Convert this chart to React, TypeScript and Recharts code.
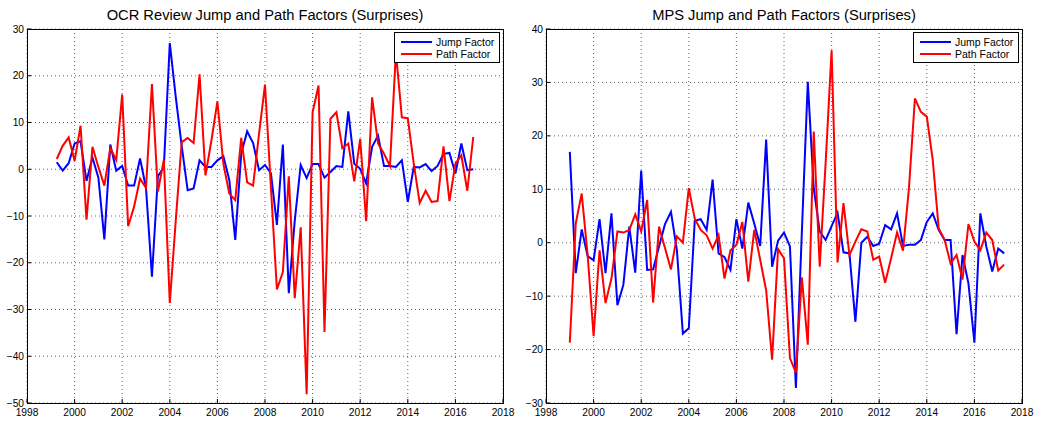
import { LineChart, Line, XAxis, YAxis, CartesianGrid, Legend } from "recharts";

// OCR Review dates (quarterly), 1999Q2 .. 2016Q4
const ocrDates = [
  1999.25, 1999.5, 1999.75,
  2000, 2000.25, 2000.5, 2000.75, 2001, 2001.25, 2001.5, 2001.75,
  2002, 2002.25, 2002.5, 2002.75, 2003, 2003.25, 2003.5, 2003.75,
  2004, 2004.25, 2004.5, 2004.75, 2005, 2005.25, 2005.5, 2005.75,
  2006, 2006.25, 2006.5, 2006.75, 2007, 2007.25, 2007.5, 2007.75,
  2008, 2008.25, 2008.5, 2008.75, 2009, 2009.25, 2009.5, 2009.75,
  2010, 2010.25, 2010.5, 2010.75, 2011, 2011.25, 2011.5, 2011.75,
  2012, 2012.25, 2012.5, 2012.75, 2013, 2013.25, 2013.5, 2013.75,
  2014, 2014.25, 2014.5, 2014.75, 2015, 2015.25, 2015.5, 2015.75,
  2016, 2016.25, 2016.5, 2016.75,
];

const ocrJump = [
  1.5, -0.3, 1.3,
  5.5, 6.0, -2.5, 2.5, -1.8, -15.0, 5.3, -0.3,
  0.7, -3.5, -3.5, 2.3, -4.0, -23.0, -1.5, 0.5,
  27.0, 15.5, 5.0, -4.5, -4.1, 1.9, 0.5, 0.5,
  1.9, 2.8, -2.3, -15.1, 3.3, 8.1, 5.6, -0.2,
  0.9, -0.9, -11.9, 5.3, -26.5, -11.0, 0.9, -1.9,
  1.1, 1.1, -1.8, -0.6, 0.7, 0.5, 12.4, 1.2,
  0.1, -3.0, 4.8, 7.2, 0.7, 0.7, 0.5, 1.9,
  -7.0, 0.5, 0.4, 1.1, -0.4, 0.7, 3.3, 3.5,
  -0.9, 5.5, -0.2, 0.0,
];

const ocrPath = [
  2.2, 5.0, 6.8,
  1.8, 9.3, -10.8, 4.8, 0.5, -3.5, 4.5, 2.0,
  16.0, -12.2, -8.0, -2.0, -4.0, 18.2, -4.8, 2.0,
  -28.6, -11.0, 5.8, 6.7, 5.6, 20.3, -1.3, 6.2,
  14.5, 1.2, -5.2, -6.6, 6.7, -2.8, -3.5, 7.6,
  18.1, -4.0, -25.7, -22.0, -1.5, -27.6, -12.4, -48.1,
  12.2, 17.9, -34.8, 10.8, 12.2, 4.5, 5.5, -2.6,
  6.5, -11.1, 15.4, 5.5, 3.3, 0.7, 25.0, 11.1,
  10.9, 1.2, -7.2, -4.6, -7.0, -6.8, 4.9, -6.8,
  1.2, 3.0, -4.6, 6.9,
];

// MPS dates (quarterly), 1999Q1 .. 2017Q2
const mpsDates = [
  1999, 1999.25, 1999.5, 1999.75,
  2000, 2000.25, 2000.5, 2000.75, 2001, 2001.25, 2001.5, 2001.75,
  2002, 2002.25, 2002.5, 2002.75, 2003, 2003.25, 2003.5, 2003.75,
  2004, 2004.25, 2004.5, 2004.75, 2005, 2005.25, 2005.5, 2005.75,
  2006, 2006.25, 2006.5, 2006.75, 2007, 2007.25, 2007.5, 2007.75,
  2008, 2008.25, 2008.5, 2008.75, 2009, 2009.25, 2009.5, 2009.75,
  2010, 2010.25, 2010.5, 2010.75, 2011, 2011.25, 2011.5, 2011.75,
  2012, 2012.25, 2012.5, 2012.75, 2013, 2013.25, 2013.5, 2013.75,
  2014, 2014.25, 2014.5, 2014.75, 2015, 2015.25, 2015.5, 2015.75,
  2016, 2016.25, 2016.5, 2016.75, 2017, 2017.25,
];

const mpsJump = [
  17.0, -5.7, 2.5, -2.5,
  -3.3, 4.4, -5.7, 5.5, -11.7, -7.9, 3.0, -5.6,
  13.5, -5.1, -5.0, -0.7, 3.5, 5.8, -1.4, -17.0,
  -16.0, 4.1, 4.4, 2.4, 11.8, -2.0, -2.7, -5.1,
  4.4, -1.1, 7.5, 3.6, -0.6, 19.3, -4.5, 0.4,
  1.9, -0.7, -27.2, 2.0, 30.1, 10.2, 2.1, 0.5,
  3.1, 5.6, -1.8, -2.0, -14.8, 0.0, 1.1, -0.6,
  -0.2, 3.3, 2.5, 5.5, -0.6, -0.4, -0.4, 0.5,
  3.9, 5.5, 2.4, 0.5, 0.5, -17.1, -2.3, -7.6,
  -18.7, 5.5, -0.7, -5.4, -1.1, -2.0,
];

const mpsPath = [
  -18.7, 3.6, 9.2, -2.3,
  -17.5, -1.4, -11.3, -6.7, 2.1, 1.9, 2.4, 5.3,
  2.1, 8.0, -11.2, 3.0, -1.0, -5.0, 1.2, 0.0,
  10.2, 4.5, 2.4, 1.4, -1.1, 1.4, -6.7, -1.4,
  -0.4, 3.9, -7.3, 2.4, -3.2, -8.9, -21.9, -1.2,
  -2.9, -21.6, -24.3, -6.5, -19.1, 20.8, -4.5, 15.0,
  36.0, -3.7, 7.4, -2.3, 0.2, 2.5, 2.1, -3.2,
  -2.6, -7.5, -2.9, 1.9, -1.5, 10.2, 27.0, 24.5,
  23.6, 15.5, 2.7, 0.5, -3.9, -2.3, -6.9, 3.5,
  0.2, -1.4, 1.9, 0.5, -5.2, -4.1,
];

const yearTicks = [1998, 2000, 2002, 2004, 2006, 2008, 2010, 2012, 2014, 2016, 2018];
const ocrTicks = [-50, -40, -30, -20, -10, 0, 10, 20, 30];
const mpsTicks = [-30, -20, -10, 0, 10, 20, 30, 40];

const FONT = '"Liberation Sans", Arial, Helvetica, sans-serif';
const CHART_H = 421;
const PLOT_TOP = 29;
const PLOT_W = 476;
const PLOT_H = 374;

function buildRows(dates: number[], jump: number[], path: number[]) {
  return dates.map((d, i) => ({ date: d, jump: jump[i], path: path[i] }));
}

const minus = (v: number) => String(v).replace("-", "\u2212");

function FactorLegend(props: any) {
  const payload = props.payload || [];
  return (
    <div
      style={{
        border: "1px solid #000",
        background: "#fff",
        width: 106,
        height: 31,
        boxSizing: "border-box",
        padding: "3px 0 0 6px",
        fontFamily: FONT,
        fontSize: 10.5,
        color: "#000",
      }}
    >
      {payload.map((p: any) => (
        <div key={p.value} style={{ display: "flex", alignItems: "center", height: 12 }}>
          <svg width={31} height={4} style={{ display: "block" }}>
            <line x1={0} y1={2} x2={31} y2={2} stroke={p.color} strokeWidth={2} />
          </svg>
          <span style={{ marginLeft: 4, lineHeight: "12px", whiteSpace: "nowrap", color: "#000" }}>
            {p.value}
          </span>
        </div>
      ))}
    </div>
  );
}

interface PanelProps {
  title: string;
  rows: { date: number; jump: number; path: number }[];
  yDomain: [number, number];
  yTicks: number[];
  left: number;
  width: number;
  yAxisWidth: number;
  legendLeft: number;
}

function FactorPanel({ title, rows, yDomain, yTicks, left, width, yAxisWidth, legendLeft }: PanelProps) {
  const marginRight = width - yAxisWidth - PLOT_W;
  return (
    <div style={{ position: "absolute", left, top: 0, width, height: CHART_H }}>
      <div
        style={{
          position: "absolute",
          left: yAxisWidth,
          width: PLOT_W,
          top: 7,
          textAlign: "center",
          fontFamily: FONT,
          fontSize: 14.7,
          lineHeight: "17px",
          color: "#000",
        }}
      >
        {title}
      </div>
      <LineChart
        width={width}
        height={CHART_H}
        data={rows}
        margin={{ top: PLOT_TOP, right: marginRight, left: 0, bottom: 0 }}
      >
        <CartesianGrid stroke="#666" strokeDasharray="1 3" />
        <XAxis
          dataKey="date"
          type="number"
          domain={[1998, 2018]}
          ticks={yearTicks}
          height={18}
          axisLine={false}
          tickLine={{ stroke: "#000" }}
          tickSize={-4}
          tickMargin={10}
          interval={0}
          tick={{ fontSize: 10.2, fill: "#000", fontFamily: FONT }}
        />
        <YAxis
          type="number"
          domain={yDomain}
          ticks={yTicks}
          width={yAxisWidth}
          axisLine={false}
          tickLine={{ stroke: "#000" }}
          tickSize={-4}
          tickMargin={7}
          interval={0}
          tickFormatter={minus}
          tick={{ fontSize: 10.2, fill: "#000", fontFamily: FONT }}
        />
        <Line
          type="linear"
          dataKey="jump"
          name="Jump Factor"
          stroke="#0000ff"
          strokeWidth={2}
          dot={false}
          activeDot={false}
          isAnimationActive={false}
        />
        <Line
          type="linear"
          dataKey="path"
          name="Path Factor"
          stroke="#ff0000"
          strokeWidth={2}
          dot={false}
          activeDot={false}
          isAnimationActive={false}
        />
        <Legend
          layout="vertical"
          align="center"
          verticalAlign="middle"
          content={<FactorLegend />}
          wrapperStyle={{ left: legendLeft, top: 32, right: "auto", bottom: "auto", width: "auto" }}
        />
      </LineChart>
      <div
        style={{
          position: "absolute",
          left: yAxisWidth,
          top: PLOT_TOP,
          width: PLOT_W + 1,
          height: PLOT_H + 1,
          border: "1px solid #000",
          boxSizing: "border-box",
          pointerEvents: "none",
        }}
      />
    </div>
  );
}

export default function App() {
  return (
    <div style={{ position: "absolute", left: 0, top: 0, width: 1037, height: 421, background: "#fff" }}>
      <FactorPanel
        title="OCR Review Jump and Path Factors (Surprises)"
        rows={buildRows(ocrDates, ocrJump, ocrPath)}
        yDomain={[-50, 30]}
        yTicks={ocrTicks}
        left={0}
        width={520}
        yAxisWidth={27}
        legendLeft={394}
      />
      <FactorPanel
        title="MPS Jump and Path Factors (Surprises)"
        rows={buildRows(mpsDates, mpsJump, mpsPath)}
        yDomain={[-30, 40]}
        yTicks={mpsTicks}
        left={520}
        width={517}
        yAxisWidth={26}
        legendLeft={393}
      />
    </div>
  );
}
